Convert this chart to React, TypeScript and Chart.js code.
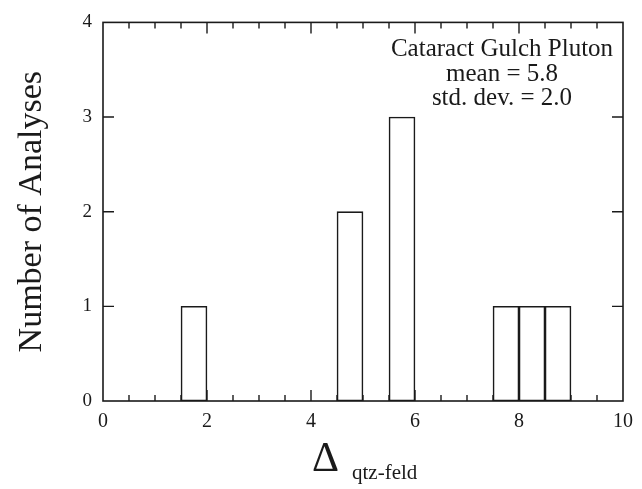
import React, { useEffect, useRef } from "react";
import { Chart, registerables } from "chart.js";

Chart.register(...registerables);

// Histogram bins (center of 0.5-wide bin) and counts
const binCenters = [1.75, 4.75, 5.75, 7.75, 8.25, 8.75];
const counts = [1, 2, 3, 1, 1, 1];
const xTickValues = [0, 2, 4, 6, 8, 10];
const yTickValues = [0, 1, 2, 3, 4];
const annotationLines = ["Cataract Gulch Pluton", "mean = 5.8", "std. dev. = 2.0"];
const yTitle = "Number of Analyses";
const xTitleMain = "Δ";
const xTitleSub = "qtz-feld";

const SERIF = '"Liberation Serif", "Times New Roman", serif';
const INK = "#1a1a1a";

const framePlugin = {
  id: "frameTicks",
  afterDraw(chart: any) {
    const { ctx, chartArea } = chart;
    const xs = chart.scales.x;
    const ys = chart.scales.y;
    const { left, right, top, bottom } = chartArea;
    ctx.save();
    ctx.strokeStyle = INK;
    ctx.lineWidth = 1.6;
    ctx.strokeRect(left, top, right - left, bottom - top);
    ctx.lineWidth = 1.4;
    ctx.beginPath();
    for (let v = 0.5; v < 10; v += 0.5) {
      const px = xs.getPixelForValue(v);
      const len = Math.abs(v % 2) < 1e-9 ? 11 : 6;
      ctx.moveTo(px, bottom);
      ctx.lineTo(px, bottom - len);
      ctx.moveTo(px, top);
      ctx.lineTo(px, top + len);
    }
    for (let v = 1; v < 4; v += 1) {
      const py = ys.getPixelForValue(v);
      ctx.moveTo(left, py);
      ctx.lineTo(left + 11, py);
      ctx.moveTo(right, py);
      ctx.lineTo(right - 11, py);
    }
    ctx.stroke();

    // annotation
    ctx.fillStyle = INK;
    ctx.textAlign = "center";
    ctx.textBaseline = "alphabetic";
    ctx.font = `25px ${SERIF}`;
    const cx = 502;
    const baselines = [56, 81, 105];
    annotationLines.forEach((t, i) => ctx.fillText(t, cx, baselines[i]));

    // x title with subscript
    ctx.textAlign = "left";
    ctx.font = `42px ${SERIF}`;
    ctx.fillText(xTitleMain, 312, 471);
    ctx.font = `21px ${SERIF}`;
    ctx.fillText(xTitleSub, 352, 479);
    ctx.restore();
  },
};

export default function App() {
  const ref = useRef<HTMLCanvasElement | null>(null);
  useEffect(() => {
    document.body.style.margin = "0";
    const canvas = ref.current;
    if (!canvas) return;
    const chart = new Chart(canvas, {
      type: "bar",
      data: {
        datasets: [
          {
            data: binCenters.map((x, i) => ({ x, y: counts[i] })),
            backgroundColor: "#ffffff",
            borderColor: INK,
            borderWidth: 1.6,
            borderSkipped: false,
            barPercentage: 1,
            categoryPercentage: 1,
          },
        ],
      },
      options: {
        animation: false,
        responsive: true,
        maintainAspectRatio: false,
        layout: { padding: { top: 13, right: 15, left: 0, bottom: 0 } },
        plugins: { legend: { display: false }, tooltip: { enabled: false } },
        scales: {
          x: {
            type: "linear",
            min: 0,
            max: 10,
            offset: false,
            afterFit: (s: any) => {
              s.height = 88;
            },
            afterBuildTicks: (s: any) => {
              s.ticks = xTickValues.map((v) => ({ value: v }));
            },
            grid: { display: false, drawTicks: false, offset: false },
            border: { display: false },
            ticks: {
              padding: 9,
              color: INK,
              font: { family: SERIF, size: 20 },
              maxRotation: 0,
            },
          },
          y: {
            type: "linear",
            min: 0,
            max: 4,
            afterFit: (s: any) => {
              s.width = 103;
            },
            afterBuildTicks: (s: any) => {
              s.ticks = yTickValues.map((v) => ({ value: v }));
            },
            grid: { display: false, drawTicks: false },
            border: { display: false },
            ticks: {
              padding: 11,
              color: INK,
              font: { family: SERIF, size: 19 },
            },
            title: {
              display: true,
              text: yTitle,
              color: INK,
              font: { family: SERIF, size: 34 },
              padding: { top: 12, bottom: 0 },
            },
          },
        },
      },
      plugins: [framePlugin],
    });
    return () => chart.destroy();
  }, []);
  return (
    <div style={{ position: "absolute", left: 0, top: 0, width: 642, height: 489, background: "#fff" }}>
      <canvas ref={ref} />
    </div>
  );
}
